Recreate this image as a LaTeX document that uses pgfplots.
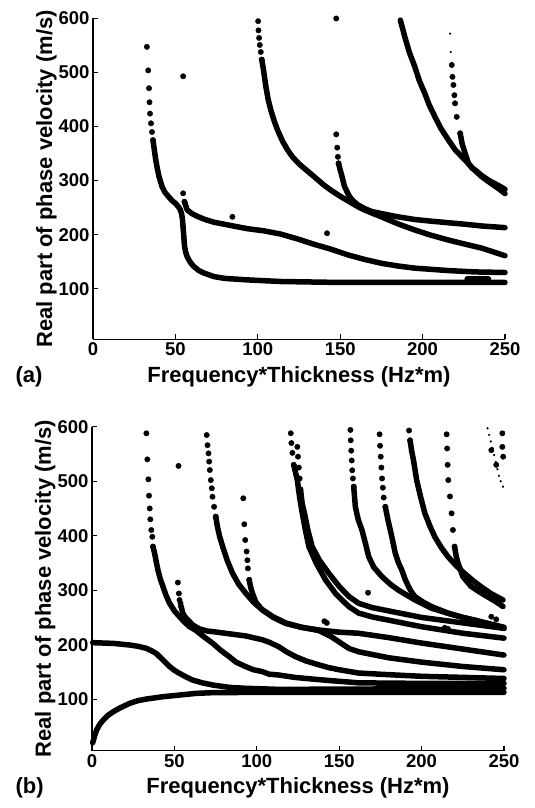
\documentclass[border=0pt]{standalone}
\usepackage{fontspec}
\setmainfont{Liberation Sans}
\usepackage{pgfplots}
\pgfplotsset{compat=1.18}

\pgfplotsset{
  dispax/.style={
    scale only axis, width=412pt,
    xmin=0, xmax=250, ymax=600,
    axis lines*=left, axis line style={-, line width=1.5pt},
    tick align=inside, major tick length=5pt,
    tick style={line width=1.2pt, black},
    xtick={0,50,...,250}, ytick={100,200,...,600},
    /pgf/number format/assume math mode=true,
    ticklabel style={font=\fontsize{18.5}{18.5}\selectfont\bfseries},
    xlabel={Frequency*Thickness (Hz*m)},
    ylabel={Real part of phase velocity (m/s)},
    label style={font=\fontsize{22}{22}\selectfont\bfseries},
    xlabel style={at={([yshift=-43pt]axis description cs:0.5,0)}, anchor=base},
    ylabel style={at={([xshift=-41pt]axis description cs:0,0.5)}, anchor=base},
    clip=false,
  },
  crv/.style={black, line width=5.5pt, line cap=round, line join=round, no marks},
  dts/.style={black, only marks, mark=*, mark size=2.7pt},
  tny/.style={black, only marks, mark=*, mark size=0.9pt},
}

\begin{document}
\begin{tikzpicture}
\path[use as bounding box] (0,0) rectangle (535pt,808pt);

% ---------------- (a) ----------------
\begin{axis}[dispax, at={(93pt,468.5pt)}, anchor=south west, height=321pt, ymin=6]
% mode 1
\addplot[dts] coordinates {(32.7,547.5) (33.5,504) (34,471) (34.3,445) (34.6,424) (35.2,406) (35.8,390) (36.4,375)};
\addplot[crv] coordinates {(36.4,375) (37.2,357) (38,340) (38.8,326) (40,308) (41.9,289) (43.5,279) (45.9,270) (48,263) (50,258) (52,251) (53,246) (53.8,238) (54.3,228) (54.7,212) (55.1,197) (55.5,180) (56.2,168) (57.1,159.5) (59,149) (61.2,141) (64,134) (67.3,129) (73.4,122.4) (80,119) (93.7,116.3) (114,113.3) (144.5,111.8) (200,111.5) (250,111.5)};
\addplot[crv] coordinates {(227,117.5) (240,117.5)};
% mode 2
\addplot[dts] coordinates {(54.7,276.5) (55.5,261)};
\addplot[crv] coordinates {(55.5,261) (57.1,246) (60,239) (63.2,234) (68,228) (73.4,223) (83.5,217) (93.7,211) (103.9,207) (114,201) (124.2,192) (134.3,182) (144.5,173) (154.7,162.5) (165,154) (175,147) (185,142) (195.3,138) (215.7,133.5) (232,131) (250,130)};
% mode 3
\addplot[dts] coordinates {(100.2,595) (100.4,578) (100.8,564) (101.2,551) (101.8,538) (102.4,524)};
\addplot[crv] coordinates {(102.4,524) (103.5,504) (104.9,474) (106.3,450) (107.9,430.5) (110,410) (112,393.5) (115,373) (118.1,356.6) (121,344) (125,331) (130,318) (134.3,307) (140,292) (144.5,282) (150,271) (155,262) (160,253) (164.8,245.6) (170,239) (175,233) (185,220) (195.3,208.6) (205,199) (215.7,190) (225,183) (236,175) (243,168) (250,161)};
% mode 4
\addplot[dts] coordinates {(147.6,600) (147.6,385.6) (148.2,361) (148.6,344) (149,332)};
\addplot[crv] coordinates {(149,332) (149.8,322) (150.6,313.5) (152.6,289) (155.7,270) (158,262) (160.8,255) (165,248) (169,243) (175,239) (185,233) (195.3,228) (205,225) (215.7,222) (225,219.5) (236,216) (250,213)};
% mode 5
\addplot[crv] coordinates {(186.5,597) (189.2,566) (192,537) (195.3,510.5) (198,485) (201.4,461) (204,440) (207.5,418) (211,397) (215.7,375) (220,356) (225.8,338) (231,321) (236,307) (241,296) (246.2,285) (250,276)};
% mode 6
\addplot[tny] coordinates {(216.7,572) (217.1,538)};
\addplot[dts] coordinates {(217.7,514) (218.1,492) (218.7,477) (219.3,458) (219.7,443) (220.7,418) (222.8,387.5)};
\addplot[crv] coordinates {(222.8,387.5) (224,368) (225.8,350.5) (227.8,332) (230,323) (231.9,319.6) (236,309) (241,299) (246,291) (250,284)};
% stray points
\addplot[dts] coordinates {(54.7,493) (84.6,233) (142,202.6)};
\end{axis}
\node[anchor=base west, font=\fontsize{22}{22}\selectfont\bfseries] at (12pt,425.5pt) {(a)};

% ---------------- (b) ----------------
\begin{axis}[dispax, at={(92pt,57.3pt)}, anchor=south west, height=324pt, ymin=5.5]
% mode 0a
\addplot[crv] coordinates {(0.4,20) (0.8,24) (1.5,32) (2.8,43.4) (4.5,53) (6.8,61.8) (9.5,70) (12.9,77) (17,84) (22.9,92.4) (28,97.5) (33,100.3) (43.1,104.6) (53.1,107.6) (63.2,110.7) (73.3,112) (100,112.5) (150,112.5) (200,112.5) (250,112.5)};
% mode 0b
\addplot[crv] coordinates {(0.4,203.7) (12.9,202.4) (22.9,199.4) (28,197) (33,193.3) (36,189) (39,184) (41,178) (43.1,172) (45,166) (47.1,160) (50,153) (53.1,147.4) (57,141) (61.2,135) (67,130) (73.3,126) (83.3,121.7) (93.4,120) (113.5,118) (150,118.5) (200,119) (250,120)};
% mode 1
\addplot[dts] coordinates {(33,587.8) (33.6,540) (34.2,503.4) (34.6,473.4) (35,450) (35.4,430) (36,410.4) (36.6,398) (37,380)};
\addplot[crv] coordinates {(37,380) (38,367.6) (39,352) (40,337) (41.5,320) (43.1,306.4) (45,290) (47.1,276) (50,262) (53.1,251.4) (56,242) (59.2,233) (63.2,226) (65.2,221) (69,212) (73.3,202.5) (78,190) (83.3,178) (87.4,168) (93.4,159.6) (98,154) (103.5,150.5) (107.4,146) (113.5,144.3) (123,140) (133.6,137) (145,134) (161.8,130) (200,129) (250,129)};
% mode 2
\addplot[dts] coordinates {(52.1,314) (52.7,294) (53.1,282) (53.7,276) (54.1,270)};
\addplot[crv] coordinates {(54.1,270) (55.1,258) (56.2,252) (58,246) (61.2,236) (65.2,229) (70,225) (73.3,224) (83.3,220) (93.4,216) (103.4,209) (108,204) (113.5,196) (118,187) (123.6,178) (130,170) (137.7,163) (143.6,158) (150,154) (161.8,148) (180,145) (200,142) (225,140) (250,138)};
% mode 3
\addplot[dts] coordinates {(69.6,584.7) (70.1,566) (70.7,551) (71.1,536) (71.5,520.5) (72.1,502) (72.7,487) (73.1,471.5) (74.1,453) (75.1,435)};
\addplot[crv] coordinates {(75.1,435) (76.1,416.5) (77.5,398) (79.3,380) (82,355) (85.3,331) (89,311) (93.4,294) (98,278) (103.4,263.6) (110,250) (117.5,239) (127,232) (137.6,227) (150,223) (161.7,221) (180,213) (200,203) (225,192) (250,181)};
% mode 4
\addplot[dts] coordinates {(91.8,468.6) (92.4,421) (93,392) (93.8,371) (94.3,355) (94.6,340) (95.4,319)};
\addplot[crv] coordinates {(95.4,319) (96.3,305) (97.4,294) (99.4,278) (103,265) (110,251) (117.5,240) (127,232) (137.6,226) (145,215) (150,205) (156,193) (161.8,187) (180,176) (200,168) (225,160) (250,154)};
% mode 5a
\addplot[dts] coordinates {(120.6,588) (121,570) (121.6,552) (122.4,530)};
\addplot[crv] coordinates {(122.4,530) (124.6,502) (126,470) (127.6,441) (129.5,410) (131.6,380) (136,350) (141.7,319) (148,293) (155.8,270) (161.8,258) (170,251) (180,245) (200,233) (225,221) (250,212)};
% mode 5b
\addplot[dts] coordinates {(124.6,563) (125,545) (125.5,525) (126,505) (126.5,485)};
\addplot[crv] coordinates {(126.5,485) (127.6,458) (129,440) (131,410) (133.6,380) (138,355) (143.7,331) (150,307) (155.8,288.6) (161.8,276) (170,268) (180,262) (200,250) (225,240) (250,230)};
% mode 6
\addplot[dts] coordinates {(156.8,594) (157,575) (157.3,556) (157.6,538) (157.9,520) (158.3,505) (158.8,490)};
\addplot[crv] coordinates {(158.8,490) (159.8,453) (161.5,430) (163.8,410.5) (166,385) (167.9,361.5) (171,342) (175.9,325) (181,311) (186,300) (196,282) (206,267) (216.2,257.4) (225,250) (232.3,245) (240,238) (250,230)};
% mode 7
\addplot[dts] coordinates {(174.5,586) (174.8,565) (175.2,545) (175.6,525) (176,505) (176.5,488) (177,470) (178,453)};
\addplot[crv] coordinates {(178,453) (179.5,430) (181,410.5) (182.5,390) (184,368) (186,350) (188,337) (190,320) (192,307) (194,296) (196,288) (201,278) (206,270) (216,258) (225,250) (235,243) (250,232)};
% mode 8
\addplot[dts] coordinates {(192.4,593) (193,575)};
\addplot[crv] coordinates {(193,575) (194,555) (195,540) (197,502) (199.5,470) (202,441) (205,418) (208,398) (212,378) (216,361.5) (221,345) (226,331) (231,318) (236,306.5) (242,294) (249.4,282)};
% mode 9
\addplot[dts] coordinates {(215.2,586) (215.5,560) (215.8,530) (216.2,502) (217.2,472) (218.2,441) (219,410.5) (220,380)};
\addplot[crv] coordinates {(220,380) (221,362) (222.2,349) (225,325) (230,307) (235,297) (240,288) (245,279) (249.4,270)};
% mode 10
\addplot[tny] coordinates {(240,597) (241,585) (242,573) (243,561) (244,548) (245,535) (246,522) (247,510) (248,500) (249.4,490)};
\addplot[dts] coordinates {(242.3,557) (245.3,530)};
% stray points
\addplot[dts] coordinates {(52.5,528) (167.5,295.4) (141,243) (142.5,240) (242.3,251.4) (245.3,246.5) (214,231) (216,229) (249,587.8) (249,563) (249.5,545)};
\end{axis}
\node[anchor=base west, font=\fontsize{22}{22}\selectfont\bfseries] at (12pt,14.3pt) {(b)};
\end{tikzpicture}
\end{document}
